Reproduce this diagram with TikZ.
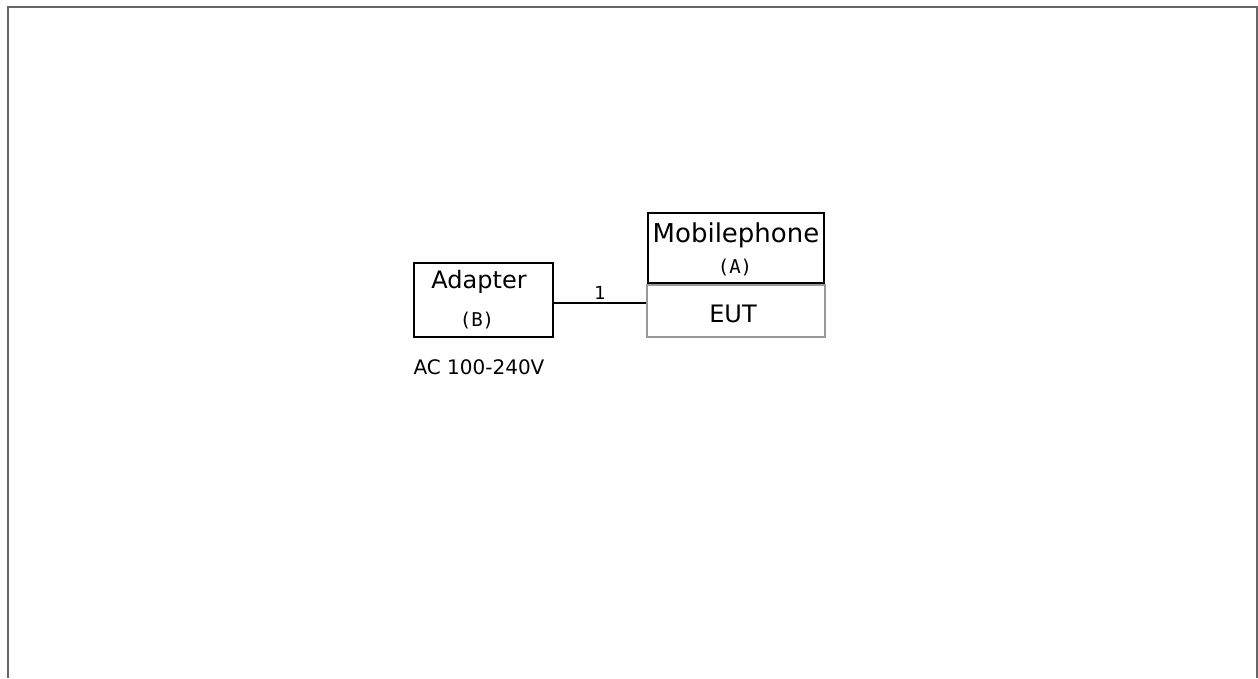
\documentclass[tikz,border=0pt]{standalone}
\usepackage{fontspec}
\setmainfont{DejaVu Sans}
\newfontfamily\monofont{DejaVu Sans Mono}
\begin{document}
\begin{tikzpicture}[x=1pt,y=-1pt,
  box/.style={draw=black,line width=2pt,inner sep=0pt},
  lightbox/.style={draw=black!40,line width=1.6pt,inner sep=0pt},
  lbl/.style={inner sep=0pt,font=\fontsize{24}{26}\selectfont},
  mlbl/.style={inner sep=0pt,font=\monofont\fontsize{19}{21}\selectfont},
  frame/.style={draw=black!60,line width=2pt}]
\useasboundingbox (0,0) rectangle (1258,678);
\fill[white] (0,0) rectangle (1258,678);
\draw[frame] (7.5,678) -- (7.5,6.5) -- (1257,6.5) -- (1257,678);
% boxes
\node[box,minimum width=139pt,minimum height=74pt] (adapter) at (483.5,300) {};
\node[box,minimum width=176pt,minimum height=70pt] (phone) at (736,248) {};
\node[lightbox,minimum width=178pt,minimum height=52pt] (eut) at (736,311) {};
% texts
\node[lbl] (tadapter) at (479,282) {Adapter};
\node[mlbl] (tb) at (477,321) {(B)};
\node[lbl,font=\fontsize{26}{28}\selectfont] (tphone) at (736,235) {Mobilephone};
\node[mlbl] (ta) at (735,268) {(A)};
\node[lbl] (teut) at (733,314) {EUT};
\node[lbl,font=\fontsize{20}{22}\selectfont] (tac) at (479,367) {AC 100-240V};
% connector
\coordinate (c1) at ([yshift=-3pt]adapter.east);
\draw[line width=2pt] (c1) -- (c1 -| eut.west) node[midway,above=3pt,inner sep=0pt,font=\fontsize{18}{20}\selectfont] (one) {1};
\end{tikzpicture}
\end{document}
